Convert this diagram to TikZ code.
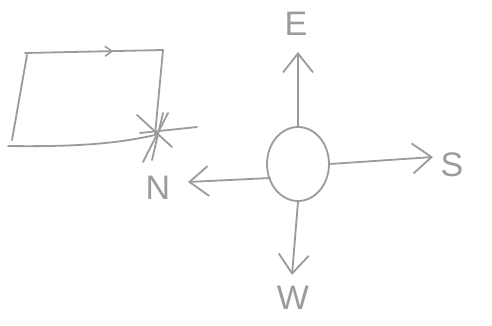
\documentclass[tikz,border=0pt]{standalone}
\usepackage{fontspec}
\setmainfont{Liberation Sans}
\usetikzlibrary{arrows.meta,decorations.markings,shapes.geometric}
\definecolor{pencil}{RGB}{155,155,155}
\tikzset{
  pen/.style={draw=pencil, line width=1.8pt, line cap=round, line join=round},
  barb/.style={pen, -{Straight Barb[length=19pt,width=30pt,line width=1.8pt]}},
  lbl/.style={text=pencil, font=\fontsize{34}{34}\selectfont, inner sep=0pt},
  hub/.style={pen, ellipse, minimum width=62pt, minimum height=74pt, inner sep=0pt}
}
\begin{document}
\begin{tikzpicture}[x=1pt,y=-1pt]
\useasboundingbox (0,0) rectangle (492,325);
\fill[white] (0,0) rectangle (492,325);
% rectangle
\coordinate (tl) at (25,53);
\coordinate (tr) at (163,50);
\coordinate (bl) at (8,146);
\coordinate (br) at (155,135);
\draw[pen, postaction={decorate}, decoration={markings, mark=at position 0.64 with {\arrow{Straight Barb[length=7pt,width=10pt,line width=1.6pt]}}}] (tl) -- (tr);
\draw[pen] (tr) -- (br);
\draw[pen] (27,55) -- (12,140);
\draw[pen] (bl) .. controls (80,147) and (120,143) .. (br);
% star
\draw[pen] (137,115) -- (172,147);
\draw[pen] (168,113) -- (143,162);
\draw[pen] (140,133) -- (197,127);
\draw[pen] (163,113) -- (152,160);
% hub
\node[hub] (c) at (298,164) {};
\coordinate (te) at (298,52);
\coordinate (ts) at (433,157);
\coordinate (tn) at (188,182);
\coordinate (tw) at (292,275);
\draw[barb] (c.north) -- (te);
\draw[barb] (c.east) -- (ts);
\draw[barb] (c.west) ++(4,14) -- (tn);
\draw[barb] (c.south) -- (tw);
\node[lbl] (E) at (296,24) {E};
\node[lbl] (S) at (452,165) {S};
\node[lbl] (N) at (158,188) {N};
\node[lbl] (W) at (293,298) {W};
\end{tikzpicture}
\end{document}
